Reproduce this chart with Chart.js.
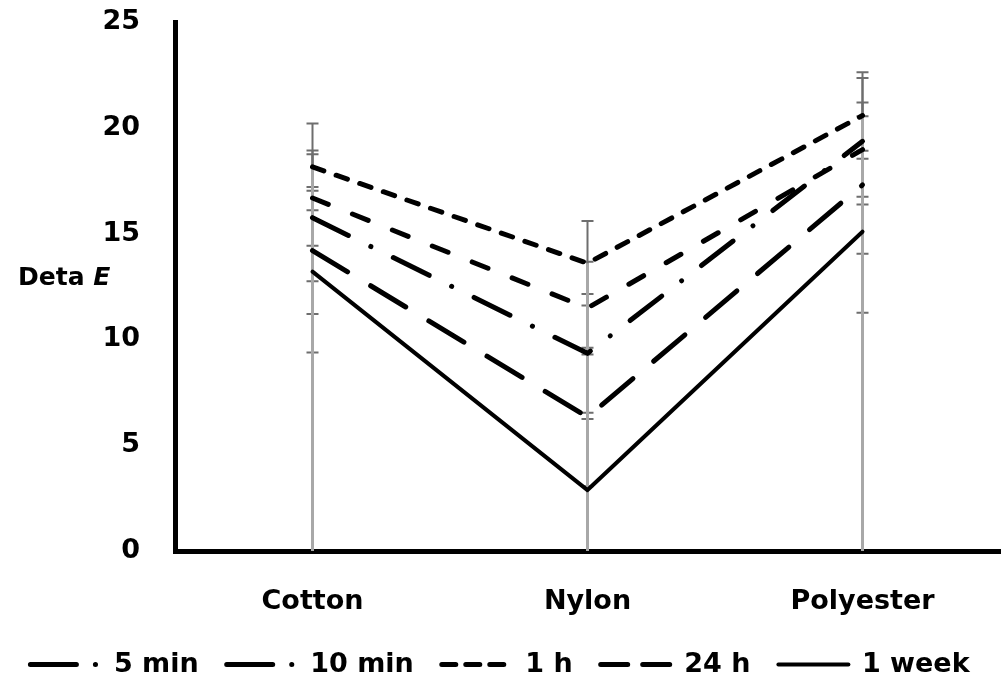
<!DOCTYPE html>
<html><head><meta charset="utf-8">
<script src="https://cdn.jsdelivr.net/npm/chart.js@4.4.0/dist/chart.umd.min.js"></script>
<style>html,body{margin:0;padding:0;background:#fff}#wrap{width:1008px;height:688px;position:relative}</style>
</head><body><div id="wrap"><canvas id="c"></canvas></div>
<script>
// ---- data ----
const categories = ['Cotton', 'Nylon', 'Polyester'];
const seriesNames = ['5 min', '10 min', '1 h', '24 h', '1 week'];
const min5   = [15.75, 9.34, 19.36];
const min10  = [14.2, 6.33, 17.3];
const hour1  = [18.15, 13.6, 20.58];
const hour24 = [16.68, 11.48, 18.97];
const week1  = [13.2, 2.88, 15.09];
const err5min  = [3.0, 2.81, 2.99];
const err10min = [3.0, 3.27, 3.25];
const err1h    = [2.05, 2.0, 2.04];
const err24h   = [2.25, 2.19, 2.23];
const err1week = [3.82, 3.36, 3.83];
const yTicks = [0, 5, 10, 15, 20, 25];
const yTitle = 'Deta ';
const yTitleItalic = 'E';

// ---- styles ----
const FONT = "'DejaVu Sans', sans-serif";
const seriesValues = [min5, min10, hour1, hour24, week1];
const seriesErrors = [err5min, err10min, err1h, err24h, err1week];
const dashes = [[40, 25, 0.1, 25], [41, 27], [12, 13], [17, 26], []];
const legendDashes = [[46, 19, 0.1, 40], [46, 19, 0.1, 40], [14, 10], [27, 15], []];
const widths = [5, 5, 5, 5, 4];

const datasets = seriesNames.map((n, i) => ({
  label: n,
  data: seriesValues[i],
  errors: seriesErrors[i],
  borderColor: '#000',
  backgroundColor: '#000',
  borderWidth: widths[i],
  borderDash: dashes[i],
  borderCapStyle: 'round',
  borderJoinStyle: 'round',
  pointRadius: 0,
  pointHoverRadius: 0,
  tension: 0,
  fill: false
}));

const errPlugin = {
  id: 'errbars',
  beforeDatasetsDraw(chart) {
    const {ctx, chartArea, scales: {x, y}} = chart;
    ctx.save();
    ctx.beginPath();
    ctx.rect(chartArea.left, chartArea.top - 10, chartArea.right - chartArea.left, chartArea.bottom - chartArea.top + 10);
    ctx.clip();
    ctx.strokeStyle = '#6e6e6e';
    ctx.lineWidth = 2;
    chart.data.datasets.forEach(ds => {
      ds.data.forEach((v, j) => {
        const e = ds.errors[j];
        const px = x.getPixelForValue(j);
        const t = y.getPixelForValue(v + e);
        const b = y.getPixelForValue(v - e);
        ctx.beginPath();
        ctx.moveTo(px, t); ctx.lineTo(px, b);
        ctx.moveTo(px - 6, t); ctx.lineTo(px + 6, t);
        ctx.moveTo(px - 6, b); ctx.lineTo(px + 6, b);
        ctx.stroke();
      });
    });
    ctx.strokeStyle = '#a8a8a8';
    ctx.lineWidth = 3;
    categories.forEach((c, j) => {
      const top = Math.max(...chart.data.datasets.map(ds => ds.data[j]));
      const px = x.getPixelForValue(j);
      ctx.beginPath();
      ctx.moveTo(px, y.getPixelForValue(top));
      ctx.lineTo(px, y.getPixelForValue(0));
      ctx.stroke();
    });
    ctx.restore();
  },
  afterDraw(chart) {
    const {ctx, scales: {y}} = chart;
    ctx.save();
    ctx.fillStyle = '#000';
    ctx.textBaseline = 'middle';
    ctx.font = "bold 25px " + FONT;
    const yy = y.getPixelForValue(12.9);
    ctx.fillText(yTitle, 18, yy);
    const w = ctx.measureText(yTitle).width;
    ctx.font = "italic bold 25px " + FONT;
    ctx.fillText(yTitleItalic, 18 + w, yy);
    ctx.restore();
  }
};

new Chart(document.getElementById('c'), {
  type: 'line',
  data: { labels: categories, datasets },
  options: {
    responsive: true,
    maintainAspectRatio: false,
    animation: false,
    events: [],
    layout: { padding: { left: 0, right: 8, top: 22, bottom: 0 } },
    plugins: {
      tooltip: { enabled: false },
      legend: {
        position: 'bottom',
        labels: {
          usePointStyle: true,
          pointStyle: 'line',
          pointStyleWidth: 70,
          padding: 28,
          color: '#000',
          font: { family: FONT, size: 27, weight: 'bold' },
          generateLabels(chart) {
            return chart.data.datasets.map((ds, i) => ({
              text: ds.label,
              fillStyle: '#000',
              strokeStyle: '#000',
              lineWidth: ds.borderWidth,
              lineDash: legendDashes[i],
              lineCap: 'round',
              pointStyle: 'line',
              hidden: false,
              datasetIndex: i,
              fontColor: '#000'
            }));
          }
        }
      }
    },
    scales: {
      x: {
        offset: true,
        grid: { display: false, drawTicks: false },
        border: { display: true, color: '#000', width: 5 },
        ticks: { color: '#000', padding: 35, font: { family: FONT, size: 27, weight: 'bold' } },
        afterFit(s) { s.height = 72; }
      },
      y: {
        min: 0, max: 25,
        grid: { display: false, drawTicks: false },
        border: { display: true, color: '#000', width: 5 },
        afterBuildTicks(s) { s.ticks = yTicks.map(v => ({ value: v })); },
        ticks: { color: '#000', padding: 35, font: { family: FONT, size: 27, weight: 'bold' } },
        afterFit(s) { s.width = 175; s.paddingTop = 10; s.paddingBottom = 10; }
      }
    }
  },
  plugins: [errPlugin]
});
</script>
</body></html>
